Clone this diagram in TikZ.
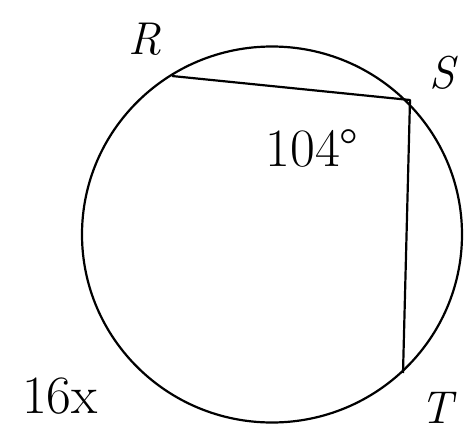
\documentclass[tikz,border=0pt]{standalone}
\usepackage{fontspec}
\begin{document}
\begin{tikzpicture}[x=1pt,y=-1pt,
  geo/.style={line width=2.2pt,black},
  ptlabel/.style={inner sep=0pt,font=\fontsize{46}{50}\selectfont\itshape},
  numlabel/.style={inner sep=0pt,font=\fontsize{54}{58}\selectfont}]
\useasboundingbox (0,0) rectangle (464,432);
\draw[geo] (272,234.5) ellipse [x radius=190, y radius=188];
\coordinate (R) at (172,76);
\coordinate (S) at (410,100);
\coordinate (T) at (403,373);
\draw[geo,line join=round] (R) -- (S) -- (T);
\node[ptlabel] (lR) at (145,39) {R};
\node[ptlabel] (lS) at (442,73) {S};
\node[ptlabel] (lT) at (437,408) {T};
\node[numlabel] (ang) at (312,148) {104°};
\node[numlabel] (arc) at (60,396) {16x};
\end{tikzpicture}
\end{document}
